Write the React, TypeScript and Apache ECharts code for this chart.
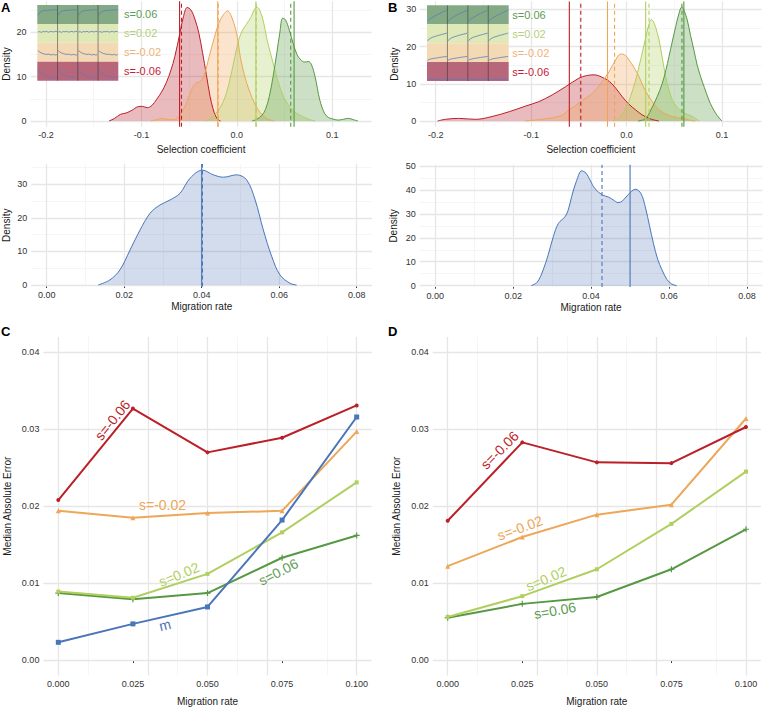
import React, { useEffect, useRef } from "react";
import * as echarts from "echarts";

const FONT = "'Liberation Sans', Arial, Helvetica, sans-serif";

const RED = "#bb1f27";
const ORANGE = "#eea658";
const LGREEN = "#b1cf5f";
const GREEN = "#579843";
const BLUE = "#4a75b9";

// ---------- Panel A (top) : selection coefficient densities ----------
const selTrueA = [-0.06, -0.02, 0.02, 0.06];
const selEstA = [-0.058, -0.0195, 0.0203, 0.0565];
const densA_m06 = [[-0.134,0],[-0.128,0.6],[-0.122,1.5],[-0.116,1.8],[-0.11,2.4],[-0.104,3.2],[-0.099,3.3],[-0.094,3.0],[-0.089,3.5],[-0.084,4.9],[-0.079,6.5],[-0.074,8.6],[-0.069,11.5],[-0.065,14.5],[-0.06,19.5],[-0.056,23.5],[-0.052,25.6],[-0.048,25],[-0.044,23],[-0.04,20],[-0.036,15.5],[-0.032,10.5],[-0.028,5.5],[-0.025,2.8],[-0.022,1],[-0.019,0.2],[-0.017,0]];
const densA_m02 = [[-0.09,0],[-0.084,0.3],[-0.078,0.6],[-0.072,0.3],[-0.066,0.3],[-0.061,1],[-0.057,2.2],[-0.053,4],[-0.048,6.8],[-0.043,8.5],[-0.038,9],[-0.034,10.5],[-0.029,14.5],[-0.024,18.5],[-0.019,22],[-0.014,24],[-0.0095,24.8],[-0.005,23.2],[0,19.5],[0.004,14],[0.009,9.5],[0.014,6.3],[0.019,3.8],[0.024,2],[0.029,0.9],[0.034,0.3],[0.039,0]];
const densA_p02 = [[-0.033,0],[-0.027,0.6],[-0.022,1.7],[-0.016,3.6],[-0.011,6.2],[-0.006,10.5],[-0.002,14.5],[0.002,18.3],[0.006,20.5],[0.01,21.8],[0.015,23.5],[0.018,25],[0.021,25.7],[0.024,25],[0.028,22.3],[0.031,19],[0.035,15.5],[0.04,11.5],[0.045,7.7],[0.05,5],[0.056,3.1],[0.061,2],[0.066,1.35],[0.072,0.7],[0.078,0.2],[0.082,0]];
const densA_p06 = [[0.016,0],[0.021,0.4],[0.026,1.2],[0.03,2.6],[0.034,5.5],[0.038,10],[0.042,15.5],[0.045,19.8],[0.048,23.2],[0.051,22.8],[0.055,20.5],[0.059,17.5],[0.063,15],[0.067,13.8],[0.071,13.3],[0.075,13.4],[0.078,12.8],[0.082,10],[0.087,4.7],[0.092,1.7],[0.096,0.8],[0.1,0.5],[0.106,0.2],[0.112,0.4],[0.117,0.6],[0.122,0.3],[0.127,0]];

// ---------- Panel B (top) ----------
const selTrueB = [-0.06, -0.02, 0.02, 0.06];
const selEstB = [-0.048, -0.0126, 0.0235, 0.058];
const densB_m06 = [[-0.198,0],[-0.19,0.45],[-0.176,0.7],[-0.158,0.45],[-0.141,1.2],[-0.123,2.5],[-0.106,4],[-0.092,5.2],[-0.078,7],[-0.064,9.2],[-0.05,11.5],[-0.042,12.2],[-0.034,12.4],[-0.026,11.8],[-0.018,10.6],[-0.011,8.7],[-0.0045,6.5],[0.0025,4.5],[0.0094,3],[0.016,1.7],[0.0235,0.7],[0.029,0.25],[0.034,0]];
const densB_m02 = [[-0.106,0],[-0.095,0.3],[-0.081,0.7],[-0.072,1.2],[-0.067,1.6],[-0.062,2.7],[-0.058,3.4],[-0.053,4.2],[-0.046,5.6],[-0.039,6.8],[-0.0325,8.3],[-0.025,10.8],[-0.0185,13.2],[-0.0115,16.4],[-0.0063,18],[-0.001,17.6],[0.0025,16.4],[0.008,14.3],[0.013,11.9],[0.018,9],[0.0235,6.5],[0.029,4.5],[0.034,3],[0.041,1.9],[0.048,1.2],[0.058,0.7],[0.065,0.3],[0.072,0]];
const densB_p02 = [[-0.014,0],[-0.008,0.6],[-0.0045,1.9],[0,3.8],[0.004,6.5],[0.009,10.5],[0.013,14.6],[0.017,19],[0.021,23.5],[0.024,26.5],[0.026,27.3],[0.029,26.2],[0.032,23.8],[0.034,21.8],[0.0375,16.8],[0.041,11.9],[0.0445,8.3],[0.048,5.6],[0.053,3.7],[0.058,2.5],[0.0635,1.8],[0.069,1.2],[0.076,0]];
const densB_p06 = [[0.012,0],[0.02,0.7],[0.027,3.8],[0.032,6.5],[0.0374,10.1],[0.041,13.5],[0.0444,17.3],[0.048,21.5],[0.0514,25.3],[0.055,29],[0.0577,30.6],[0.0605,29.5],[0.0636,27.1],[0.067,23],[0.0706,19],[0.074,15],[0.0776,11.9],[0.0815,9],[0.0863,5.6],[0.0895,3.8],[0.0933,2.1],[0.097,0.8],[0.1,0]];

// ---------- Migration-rate densities ----------
const migTrueA = 0.04;
const migEstA = 0.0402;
const migDensA = [[0.0133,0],[0.0163,1.5],[0.0189,4.5],[0.0215,10.4],[0.0241,16.4],[0.0267,21.4],[0.0292,23.8],[0.0318,25.3],[0.0344,27.3],[0.037,31.8],[0.0402,34.2],[0.043,32.8],[0.0456,32.1],[0.049,32.8],[0.0516,31.3],[0.0538,25.3],[0.0559,16.4],[0.0581,8.4],[0.0602,3],[0.0628,0.5],[0.0645,0]];
const migTrueB = 0.05;
const migEstB = 0.0428;
const migDensB = [[0.0246,0],[0.0262,1.5],[0.0277,6.6],[0.029,13],[0.0303,20.5],[0.0316,26],[0.0333,28.8],[0.0342,32],[0.035,37.2],[0.0363,44],[0.0376,48],[0.0387,47],[0.0397,44.2],[0.041,40.5],[0.0429,37.9],[0.0445,37],[0.046,35.5],[0.0469,34.7],[0.048,35.3],[0.0495,38],[0.0514,40.3],[0.0528,38.5],[0.0539,33],[0.055,25],[0.056,17.7],[0.0571,11],[0.0582,6.6],[0.0595,2.5],[0.0607,0.7],[0.062,0]];

// ---------- Panels C and D : median absolute error ----------
const migrationRates = [0, 0.025, 0.05, 0.075, 0.1];
const C_sm06 = [0.0208, 0.0327, 0.027, 0.0289, 0.0331];
const C_sm02 = [0.0194, 0.0185, 0.0191, 0.0194, 0.0297];
const C_sp02 = [0.0089, 0.0081, 0.0112, 0.0166, 0.0231];
const C_sp06 = [0.0087, 0.0079, 0.0087, 0.0133, 0.0162];
const C_m = [0.0023, 0.0047, 0.0069, 0.0182, 0.0316];
const D_sm06 = [0.0181, 0.0283, 0.0257, 0.0256, 0.0303];
const D_sm02 = [0.0122, 0.016, 0.0189, 0.0202, 0.0314];
const D_sp02 = [0.0056, 0.0083, 0.0118, 0.0177, 0.0245];
const D_sp06 = [0.0055, 0.0073, 0.0082, 0.0118, 0.017];

// ---------- inset traces (relative position inside each band) ----------
const insetLabels = ["s=0.06", "s=0.02", "s=-0.02", "s=-0.06"];
const insetPanels = [0, 1, 2, 3];
const traceA_p06 = [0.45, 0.6, 0.68, 0.72, 0.74, 0.73, 0.76, 0.75, 0.77, 0.76, 0.78, 0.77];
const traceA_p02 = [0.58, 0.6, 0.56, 0.61, 0.59, 0.62, 0.57, 0.6, 0.61, 0.58, 0.62, 0.6];
const traceA_m02 = [0.6, 0.52, 0.46, 0.42, 0.4, 0.37, 0.4, 0.36, 0.35, 0.38, 0.34, 0.36];
const traceA_m06 = [0.62, 0.45, 0.35, 0.28, 0.23, 0.2, 0.18, 0.17, 0.15, 0.15, 0.13, 0.14];
const traceB_p06 = [0.12, 0.22, 0.3, 0.36, 0.42, 0.48, 0.53, 0.58, 0.63, 0.68, 0.72, 0.78];
const traceB_p02 = [0.08, 0.2, 0.25, 0.3, 0.33, 0.36, 0.4, 0.42, 0.45, 0.48, 0.5, 0.54];
const traceB_m02 = [0.05, 0.1, 0.13, 0.15, 0.17, 0.18, 0.2, 0.22, 0.23, 0.25, 0.26, 0.28];
const traceB_m06 = [0.03, 0.03, 0.04, 0.03, 0.04, 0.03, 0.04, 0.04, 0.03, 0.04, 0.04, 0.03];

// ---------- axis ranges and ticks ----------
const selRange = [-0.21625, 0.14125];
const densRangeA = [-1.285, 26.985];
const densRangeB = [-1.53, 32.13];
const migRange = [-0.004, 0.084];
const midRangeA = [-0.42, 36.0];
const midRangeB = [-0.6, 50.5];
const rateRange = [-0.005, 0.105];
const maeRange = [-0.002, 0.042];

const selTicks = [-0.2, -0.1, 0, 0.1];
const selLabels = ["-0.2", "-0.1", "0.0", "0.1"];
const selMinor = [-0.15, -0.05, 0.05];
const densTicksA = [0, 10, 20];
const densTicksB = [0, 10, 20, 30];
const densMinorTop = [5, 15, 25];
const migTicks = [0, 0.02, 0.04, 0.06, 0.08];
const migLabels = ["0.00", "0.02", "0.04", "0.06", "0.08"];
const migMinor = [0.01, 0.03, 0.05, 0.07];
const midTicksA = [0, 10, 20, 30];
const midMinorA = [5, 15, 25, 35];
const midTicksB = [0, 10, 20, 30, 40, 50];
const midMinorB = [5, 15, 25, 35, 45];
const rateTicks = [0, 0.025, 0.05, 0.075, 0.1];
const rateLabels = ["0.000", "0.025", "0.050", "0.075", "0.100"];
const rateMinor = [0.0125, 0.0375, 0.0625, 0.0875];
const maeTicks = [0, 0.01, 0.02, 0.03, 0.04];
const maeLabels = ["0.00", "0.01", "0.02", "0.03", "0.04"];
const maeMinor = [0.005, 0.015, 0.025, 0.035];

const bandColors = ["#83a985", "#dfe8b7", "#f4d9b5", "#b8667a"];
const labelColors = ["#5d9c55", "#b5d07a", "#efb27b", "#c8193a"];

const MAJOR = { color: "#e6e6e6", width: 1.3, type: "solid", opacity: 1 };
const MINOR = { color: "#f3f3f3", width: 0.8, type: "solid", opacity: 1 };

function fmt(ticks: number[], labels: string[]) {
  return (v: number) => {
    const i = ticks.findIndex((t) => Math.abs(t - v) < 1e-9);
    return i >= 0 ? labels[i] : "";
  };
}

function xAxisDef(g: number, range: number[], ticks: number[], labels: string[], name: string, nameGap: number) {
  return {
    type: "value", gridIndex: g, min: range[0], max: range[1],
    axisLine: { show: false },
    axisTick: { show: true, length: 3, customValues: ticks, lineStyle: { color: "#333", width: 1 } },
    axisLabel: { show: true, customValues: ticks, formatter: fmt(ticks, labels), color: "#333", fontSize: 9, fontFamily: FONT, margin: 4 },
    splitLine: { show: false },
    name, nameLocation: "middle", nameGap,
    nameTextStyle: { fontSize: 10, color: "#1a1a1a", fontFamily: FONT },
  };
}
function yAxisDef(g: number, range: number[], ticks: number[], labels: string[], name: string, nameGap: number) {
  return {
    type: "value", gridIndex: g, min: range[0], max: range[1],
    axisLine: { show: false },
    axisTick: { show: true, length: 3, customValues: ticks, lineStyle: { color: "#333", width: 1 } },
    axisLabel: { show: true, customValues: ticks, formatter: fmt(ticks, labels), color: "#333", fontSize: 9, fontFamily: FONT, margin: 4 },
    splitLine: { show: false },
    name, nameLocation: "middle", nameGap, nameRotate: 90,
    nameTextStyle: { fontSize: 10, color: "#1a1a1a", fontFamily: FONT },
  };
}
function hiddenAxis(g: number, min: number, max: number) {
  return { type: "value", gridIndex: g, min, max, show: false, splitLine: { show: false } };
}

function gridLines(g: number, xMaj: number[], xMin: number[], yMaj: number[], yMin: number[]) {
  return {
    type: "line", xAxisIndex: g, yAxisIndex: g, data: [], silent: true, z: 1,
    markLine: {
      silent: true, z: 1, symbol: ["none", "none"], label: { show: false }, animation: false,
      emphasis: { disabled: true },
      data: [
        ...xMin.map((v) => ({ xAxis: v, lineStyle: MINOR })),
        ...yMin.map((v) => ({ yAxis: v, lineStyle: MINOR })),
        ...xMaj.map((v) => ({ xAxis: v, lineStyle: MAJOR })),
        ...yMaj.map((v) => ({ yAxis: v, lineStyle: MAJOR })),
      ],
    },
  };
}

// vertical reference line spanning the panel's y range (true value solid, estimate dashed)
function vline(g: number, v: number, yRange: number[], color: string, dashed: boolean) {
  return {
    type: "line", xAxisIndex: g, yAxisIndex: g, silent: true, z: 4, symbol: "none", showSymbol: false,
    color,
    data: [[v, yRange[0]], [v, yRange[1]]],
    lineStyle: { color, width: 1.1, opacity: 1, type: dashed ? [4, 3] : "solid" },
    itemStyle: { color },
  };
}

function density(g: number, data: number[][], color: string, op = 0.3) {
  return {
    type: "line", xAxisIndex: g, yAxisIndex: g, data, smooth: 0.35, symbol: "none", showSymbol: false, z: 2,
    color,
    lineStyle: { color, width: 1 },
    itemStyle: { color },
    areaStyle: { color, opacity: op },
  };
}

function maeLine(g: number, vals: number[], color: string, symbol: string, size: number) {
  return {
    type: "line", xAxisIndex: g, yAxisIndex: g, z: 3,
    data: migrationRates.map((x, i) => [x, vals[i]]),
    symbol, symbolSize: size, showSymbol: true,
    lineStyle: { color, width: 2 },
    itemStyle: { color },
  };
}

function insetSeries(g: number, traces: number[][]) {
  const out: any[] = [];
  out.push({
    type: "line", xAxisIndex: g, yAxisIndex: g, data: [], silent: true, z: 20,
    markArea: {
      silent: true, z: 20, animation: false,
      data: bandColors.map((c, i) => [
        { xAxis: 0, yAxis: 3 - i, itemStyle: { color: c, opacity: 1 } },
        { xAxis: insetPanels.length, yAxis: 4 - i },
      ]),
    },
  });
  insetPanels.slice(1).forEach((v) => {
    out.push({
      type: "line", xAxisIndex: g, yAxisIndex: g, silent: true, z: 21, symbol: "none",
      data: [[v, 0], [v, bandColors.length]],
      lineStyle: { color: "#2f2f2f", width: 0.7, opacity: 0.75 },
    });
  });
  traces.forEach((tr, b) => {
    insetPanels.forEach((k) => {
      out.push({
        type: "line", xAxisIndex: g, yAxisIndex: g, z: 22, silent: true, symbol: "none",
        lineStyle: { color: "#5b7cc0", width: 0.8 },
        data: tr.map((v, j) => [k + 0.03 + (j * 0.94) / (tr.length - 1), 3 - b + 0.05 + v * 0.9]),
      });
    });
  });
  return out;
}

function txt(text: string, x: number, y: number, color: string, size: number, deg = 0, align = "center", weight = "normal") {
  return {
    type: "text", x, y, rotation: (deg * Math.PI) / 180, z: 100, silent: true,
    style: { text, fill: color, fontSize: size, fontFamily: FONT, fontWeight: weight, align, verticalAlign: "middle" },
  };
}

const selColors = [RED, ORANGE, LGREEN, GREEN];

export default function App() {
  const ref = useRef<HTMLDivElement>(null);
  useEffect(() => {
    if (!ref.current) return;
    const chart = echarts.init(ref.current, undefined, { renderer: "svg" });
    const refLines: any[] = [];
    selColors.forEach((c, i) => {
      refLines.push(vline(0, selTrueA[i], densRangeA, c, false), vline(0, selEstA[i], densRangeA, c, true));
      refLines.push(vline(1, selTrueB[i], densRangeB, c, false), vline(1, selEstB[i], densRangeB, c, true));
    });
    refLines.push(vline(2, migTrueA, midRangeA, BLUE, false), vline(2, migEstA, midRangeA, BLUE, true));
    refLines.push(vline(3, migTrueB, midRangeB, BLUE, false), vline(3, migEstB, midRangeB, BLUE, true));
    const option: any = {
      animation: false,
      backgroundColor: "#ffffff",
      grid: [
        { left: 30.5, top: 1.3, width: 341.1, height: 125.4 },
        { left: 420.2, top: 1.4, width: 341.2, height: 125.3 },
        { left: 31.2, top: 164.1, width: 341, height: 122.3 },
        { left: 419.7, top: 164.8, width: 342.8, height: 122.3 },
        { left: 43.4, top: 337, width: 328.2, height: 338.4 },
        { left: 432.8, top: 337, width: 328.1, height: 338.4 },
        { left: 37.3, top: 5, width: 81, height: 75.7 },
        { left: 427, top: 5.3, width: 81.7, height: 75.7 },
      ],
      xAxis: [
        xAxisDef(0, selRange, selTicks, selLabels, "Selection coefficient", 18),
        xAxisDef(1, selRange, selTicks, selLabels, "Selection coefficient", 18),
        xAxisDef(2, migRange, migTicks, migLabels, "Migration rate", 15),
        xAxisDef(3, migRange, migTicks, migLabels, "Migration rate", 15),
        xAxisDef(4, rateRange, rateTicks, rateLabels, "Migration rate", 21),
        xAxisDef(5, rateRange, rateTicks, rateLabels, "Migration rate", 21),
        hiddenAxis(6, 0, insetPanels.length),
        hiddenAxis(7, 0, insetPanels.length),
      ],
      yAxis: [
        yAxisDef(0, densRangeA, densTicksA, densTicksA.map(String), "Density", 19),
        yAxisDef(1, densRangeB, densTicksB, densTicksB.map(String), "Density", 21),
        yAxisDef(2, midRangeA, midTicksA, midTicksA.map(String), "Density", 20),
        yAxisDef(3, midRangeB, midTicksB, midTicksB.map(String), "Density", 21),
        yAxisDef(4, maeRange, maeTicks, maeLabels, "Median Absolute Error", 31),
        yAxisDef(5, maeRange, maeTicks, maeLabels, "Median Absolute Error", 31),
        hiddenAxis(6, 0, bandColors.length),
        hiddenAxis(7, 0, bandColors.length),
      ],
      series: [
        gridLines(0, selTicks, selMinor, densTicksA, densMinorTop),
        gridLines(1, selTicks, selMinor, densTicksB, densMinorTop),
        gridLines(2, migTicks, migMinor, midTicksA, midMinorA),
        gridLines(3, migTicks, migMinor, midTicksB, midMinorB),
        gridLines(4, rateTicks, rateMinor, maeTicks, maeMinor),
        gridLines(5, rateTicks, rateMinor, maeTicks, maeMinor),
        density(0, densA_m06, RED),
        density(0, densA_m02, ORANGE),
        density(0, densA_p02, LGREEN),
        density(0, densA_p06, GREEN),
        density(1, densB_m06, RED),
        density(1, densB_m02, ORANGE),
        density(1, densB_p02, LGREEN),
        density(1, densB_p06, GREEN),
        density(2, migDensA, BLUE, 0.25),
        density(3, migDensB, BLUE, 0.25),
        ...refLines,
        maeLine(4, C_sp06, GREEN, "path://M4,0H6V4H10V6H6V10H4V6H0V4H4Z", 6),
        maeLine(4, C_sp02, LGREEN, "rect", 4),
        maeLine(4, C_sm02, ORANGE, "triangle", 5),
        maeLine(4, C_sm06, RED, "circle", 4),
        maeLine(4, C_m, BLUE, "rect", 5),
        maeLine(5, D_sp06, GREEN, "path://M4,0H6V4H10V6H6V10H4V6H0V4H4Z", 6),
        maeLine(5, D_sp02, LGREEN, "rect", 4),
        maeLine(5, D_sm02, ORANGE, "triangle", 5),
        maeLine(5, D_sm06, RED, "circle", 4),
        ...insetSeries(6, [traceA_p06, traceA_p02, traceA_m02, traceA_m06]),
        ...insetSeries(7, [traceB_p06, traceB_p02, traceB_m02, traceB_m06]),
      ],
      graphic: [
        txt("A", 1, 7, "#000", 13, 0, "left", "bold"),
        txt("B", 388, 7, "#000", 13, 0, "left", "bold"),
        txt("C", 1, 331, "#000", 13, 0, "left", "bold"),
        txt("D", 388, 331, "#000", 13, 0, "left", "bold"),
        txt(insetLabels[0], 124, 13.5, labelColors[0], 11, 0, "left"),
        txt(insetLabels[1], 124, 33.3, labelColors[1], 11, 0, "left"),
        txt(insetLabels[2], 124, 51.7, labelColors[2], 11, 0, "left"),
        txt(insetLabels[3], 124, 70.7, labelColors[3], 11, 0, "left"),
        txt(insetLabels[0], 512.3, 15, labelColors[0], 11, 0, "left"),
        txt(insetLabels[1], 512.3, 34, labelColors[1], 11, 0, "left"),
        txt(insetLabels[2], 512.3, 53.3, labelColors[2], 11, 0, "left"),
        txt(insetLabels[3], 512.3, 71.7, labelColors[3], 11, 0, "left"),
        txt("s=-0.06", 112.5, 420, RED, 14, 51),
        txt("s=-0.02", 162.5, 505, ORANGE, 14, 0),
        txt("s=0.02", 179, 574.5, LGREEN, 14, 22),
        txt("s=0.06", 278.3, 572, "#5d9c55", 14, 27),
        txt("m", 165, 625, BLUE, 14, 14),
        txt("s=-0.06", 499.5, 450, RED, 14, 45),
        txt("s=-0.02", 520, 528, ORANGE, 14, 20),
        txt("s=0.02", 546, 578.7, LGREEN, 14, 23),
        txt("s=0.06", 555, 610.5, "#5d9c55", 14, 10),
      ],
    };
    chart.setOption(option);
    return () => chart.dispose();
  }, []);
  return <div ref={ref} style={{ position: "fixed", left: 0, top: 0, width: 764, height: 708 }} />;
}
